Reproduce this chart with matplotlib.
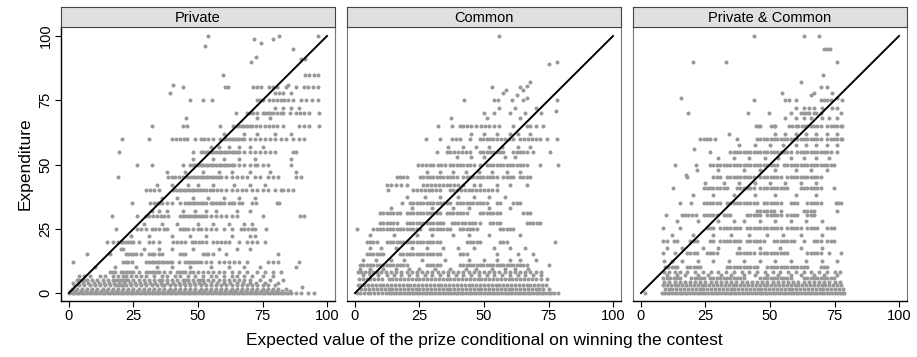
import matplotlib
matplotlib.use("Agg")
import matplotlib.pyplot as plt

plt.rcParams['font.family'] = ['Liberation Sans', 'DejaVu Sans']

panel_titles = ["Private", "Common", "Private & Common"]
ticks = [0, 25, 50, 75, 100]
diag = [0, 100]

# each panel: y level of a row of dots, and the x positions read on that row
private_y = [100, 99, 97.4, 96, 95, 92, 91, 90, 85, 81, 80, 78, 75, 72, 70, 68, 65, 62, 60, 57,
             55, 52, 50, 47, 45, 42, 40, 37, 35, 32, 30, 27, 25, 22, 20, 17, 15, 12, 10, 8,
             5, 3, 2.5, 1.5, 0, 6.5, 4, 0.8]
private_x = [
    [54, 81.5, 96.5],
    [71.7, 79],
    [74.4],
    [52.6],
    [86.7],
    [72.5],
    [90, 91.5],
    [70.5],
    [59.6, 91.5, 93, 95, 96.5],
    [40.4, 85],
    [44, 60.5, 61.8, 71.5, 73, 74.5, 77.5, 79, 80.5, 84, 88, 91, 92.5, 94.5, 96.5],
    [39, 80, 81.5, 83, 86],
    [47, 51.8, 55.3, 72.7, 74, 75.3, 77.5, 79, 80.5, 82, 83.5, 85, 87, 90, 92, 94, 96.5],
    [80, 83, 86, 89],
    [64.7, 69, 70.3, 71.5, 72.7, 75, 76, 77, 78, 79, 80.5, 82, 83, 85.5, 88, 89.5, 91, 93, 97],
    [45.3, 73, 78],
    [32, 44, 45.6, 58.5, 63.7, 65, 66, 67, 68, 69, 70, 71, 72.5, 74, 76, 77.5, 79, 80.5, 83, 89,
     91, 93, 97],
    [60, 68, 73, 80, 86],
    [20.4, 31, 40, 41.5, 43, 44.5, 45.6, 49, 51, 52.5, 54, 56, 58.5, 60, 61, 62, 63, 64, 65, 66,
     67, 68, 70, 72, 74, 76, 78, 80, 82, 84, 87, 89, 91],
    [55, 58, 62, 66, 70, 75],
    [19.5, 48, 51, 52, 53, 54, 55, 56, 57, 58, 59, 60, 61, 62, 63, 64, 65, 66, 68, 70, 72, 74,
     76, 78, 80, 87, 88],
    [48, 56, 60, 66, 72, 86],
    [26.2, 32, 44.3, 47, 48, 49, 50, 51, 52, 53, 54, 55, 56, 57, 58, 59, 60, 61, 62, 63, 64, 66,
     68, 70, 72, 73, 75, 77, 86],
    [38, 45, 52, 58, 63, 70, 78, 88],
    [19.1, 38.5, 40, 41, 42.5, 44, 45.6, 47, 48, 49, 50, 51, 52, 53, 54, 55, 56, 57, 58, 59, 61,
     63, 65, 67, 69, 72, 74, 77, 79, 81, 88, 90],
    [34, 40, 46, 50, 56, 64, 70, 76],
    [30, 31.5, 33, 35, 40.4, 41.5, 42.5, 43.5, 44.5, 45.5, 46.5, 47.5, 48.5, 49.5, 50.8, 52, 53,
     54.5, 56, 57.5, 59, 61, 63, 65, 67, 68.5, 71, 73, 75, 77, 80, 82, 83, 85, 87],
    [36, 42, 48, 54, 60, 66, 72],
    [24.3, 31.5, 33, 34, 35, 36, 38, 40, 43, 45, 46, 47, 48, 49, 50, 51, 52, 53, 55, 56, 57, 58,
     59, 60, 62, 63, 64, 66, 67, 71, 72.5, 80.5, 81.5],
    [32, 35, 38, 44, 49, 53, 57, 65, 70],
    [16.5, 26.2, 30, 31, 32.5, 34, 35.5, 37, 38.5, 43, 44, 45, 46, 47, 48, 49, 50, 51, 52, 53,
     55, 57, 59, 61, 63, 65, 75, 89.5, 91],
    [29, 36, 42, 50, 56, 62, 68, 71],
    [18.2, 26.2, 28, 30, 32, 33.5, 35, 37, 38, 43, 44, 45, 46, 48, 50, 51, 53, 55, 57, 60, 63,
     66.5, 68, 69.5, 71, 72, 76.5],
    [24, 31, 40, 47, 53, 63, 70, 72],
    [14.6, 17, 19, 20, 21, 22, 23, 24, 25, 27, 31, 32.5, 35, 40.4, 42, 43.5, 45, 47.5, 49, 50.5,
     51.5, 53, 56, 57.5, 59, 60.5, 62, 66, 69, 71, 73, 76],
    [20, 21, 29, 35, 40, 48, 58, 65, 70],
    [7.1, 15.8, 22, 23, 24, 25, 26, 28, 31, 32, 33, 35, 36, 43, 44, 45, 52, 53, 54, 56, 61, 81],
    [1.4, 21, 22, 23, 24.5, 30, 31, 32, 33, 34, 35, 36, 37, 38, 39, 40, 42.5, 45, 46, 47, 48, 49,
     50, 51, 53, 55, 58, 60, 62, 64, 66, 69, 77, 79, 81, 89],
    [10, 18, 26, 34, 40, 47, 55, 62, 68, 74, 88],
    [15.8, 17, 18, 20, 21, 22, 23, 24, 25, 27, 30, 31, 32, 33, 34, 35, 37, 39, 42, 43, 44, 45, 47,
     48, 50, 52, 54, 56, 58, 60, 63, 66, 69, 73, 76, 79, 82],
    [3, 4, 5, 6, 7, 9, 11, 13, 15, 17, 18, 19, 20, 21, 22, 23, 25, 27, 29, 31, 33, 35, 36, 38, 40,
     42, 44, 45, 46, 48, 50, 51, 52, 54, 56, 58, 60, 62, 64, 66, 68, 70, 74, 78, 83],
    [2, 4, 6, 8, 10, 12, 14, 16, 18, 19, 20, 21, 22, 24, 26, 28, 30, 32, 34, 36, 37, 39, 41, 43,
     45, 47, 49, 51, 53, 55, 57, 59, 61, 63, 65, 67, 69, 71, 73, 75, 77, 80],
    [90.2],
    [1, 3, 5, 7, 9, 11, 13, 15, 17, 19, 21, 23, 25, 27, 29, 31, 33, 35, 37, 39, 41, 43, 45, 47,
     49, 51, 53, 55, 57, 59, 61, 63, 65, 67, 69, 71, 73, 75, 77, 79, 81, 84],
    [0, 1, 2, 3, 4, 5, 6, 7, 8, 9, 10, 11, 12, 13, 14, 15, 16, 17, 18, 19, 20, 21, 22, 23, 24, 25,
     26, 27, 28, 29, 30, 31, 32, 33, 34, 35, 36, 37, 38, 39, 40, 41, 42, 43, 44, 45, 46, 47, 48,
     49, 50, 51, 52, 53, 54, 55, 56, 57, 58, 59, 60, 61, 62, 63, 64, 65, 66, 67, 68, 69, 70, 71,
     72, 73, 74, 75, 76, 77, 78, 79, 80, 81, 82, 83, 84, 85, 86, 88, 90, 92.5, 95],
    [4, 6, 8, 12, 14, 17, 19, 21, 22, 24, 26, 28, 30, 33, 36, 38, 41, 43, 46, 49, 52, 55, 57, 60,
     63, 65, 68, 71, 75, 79],
    [1.5, 3.5, 5.5, 7.5, 9.5, 11.5, 13.5, 15.5, 17.5, 19.5, 21.5, 23.5, 25.5, 27.5, 29.5, 31.5,
     33.5, 35.5, 38, 40.5, 42.5, 44.5, 46.5, 48.5, 50.5, 52.5, 55, 57.5, 60, 62.5, 65, 67.5, 70,
     72.5, 76, 81],
    [0.5, 2.5, 4.5, 6.5, 8.5, 10.5, 12.5, 14.5, 16.5, 18.5, 20.5, 22.5, 24.5, 26.5, 28.5, 30.5,
     32.5, 34.5, 36.5, 38.5, 40.5, 42.5, 44.5, 46.5, 48.5, 50.5, 52.5, 54.5, 56.5, 58.5, 60.5,
     62.5, 64.5, 66.5, 68.5, 70.5, 72.5, 74.5, 76.5, 78.5, 80.5, 82.5, 85.5],
]

common_y = [100, 90, 89, 82, 80.5, 80, 79, 78, 77, 76, 75, 72, 71, 70, 68, 65, 62, 60, 57, 55,
            53, 50, 47, 45, 42, 40, 37.5, 35, 33, 31, 27.4, 25, 22.5, 20, 17.5, 15, 13, 11, 8, 5.5,
            3, 1.5, 0, 7, 9.5]
common_x = [
    [55.7],
    [78.4],
    [75.3],
    [68],
    [66.5],
    [53, 64],
    [58.5, 65],
    [57.5],
    [62.7],
    [66.8],
    [42.2, 54, 55.5, 61, 65, 78.4],
    [56, 62, 70],
    [78],
    [50, 54, 60, 66, 72],
    [37.2, 51, 64],
    [32.3, 37.5, 40.7, 42, 43.5, 45, 47, 49, 50.5, 52, 54, 56, 61.4, 66.5, 68, 70, 73],
    [45, 50, 55, 60, 63, 68],
    [27.4, 33, 37.5, 39, 40.7, 44.6, 48.4, 49.7, 51, 52.3, 53.6, 55, 56.5, 58, 59.5, 61.4, 64,
     65.5, 67, 68.5, 70, 71.7, 74.3, 78.2],
    [36, 42, 47, 52, 57, 63, 68],
    [31.7, 35.5, 37, 38.5, 40, 41.5, 43, 44.6, 48.4, 49.7, 51, 52.3, 53.6, 55, 56.2, 57.5, 61.4,
     62.7, 64, 65.2, 66.5, 69.1, 75.6],
    [39.4, 45, 50, 58, 62],
    [24.5, 26, 27.4, 29, 30.4, 32, 33.5, 35, 36.8, 38.1, 39.4, 40.7, 42, 43.3, 44.6, 46, 48.4, 51,
     52.3, 53.6, 55, 56.2, 57.5, 58.8, 60.1, 61.4, 62.7, 64, 65.2, 66.5, 71.7, 78.8],
    [28, 33, 38, 43, 48, 53, 59, 64],
    [16.1, 17.4, 18.7, 20, 25.2, 26.5, 27.8, 29, 30.4, 31.7, 33, 34.2, 35.5, 36.8, 38.1, 39.4, 42,
     43.3, 44.6, 45.9, 47.2, 48.4, 49.7, 51, 52.3, 53.6, 54.9, 57.5, 58.8, 60.1, 61.4, 64, 65.2,
     66.5, 67.8],
    [12.3, 14, 16, 18, 20, 26.5, 28, 29.5, 31, 32.5, 34, 35.5, 37, 38.5, 40, 42, 46, 48.4, 54.9,
     60.1, 66.5],
    [12.9, 22.6, 24, 25.5, 27, 28.5, 30, 31.5, 32.9, 36.8, 38, 39.4, 41, 42.5, 44, 45.5, 47, 48.5,
     50, 51.5, 53, 54.9],
    [20, 27, 33, 40, 46, 52, 58],
    [18.1, 21.3, 22.6, 24, 25.2, 26.5, 27.8, 29, 30.4, 31.7, 33, 34.2, 35.5, 36.8, 39.4, 40.7, 42,
     43.3, 44.6, 45.9, 47.2, 48.4, 49.7, 51, 54.9, 56.2, 61.4, 62.7, 64],
    [14, 22, 30, 38, 44, 52, 60],
    [9.7, 11, 12.3, 13.6, 14.9, 16.1, 17.4, 20, 21.3, 22.6, 24, 25.2, 26.5, 27.8, 29, 30.4, 31.7,
     32.9, 35.5, 36.8, 38.1, 39.4, 40.7, 42, 43.3, 48.4, 49.7, 51, 52.3, 53.6, 54.9, 56.2, 65.2,
     66.5, 67.8],
    [9.7, 11, 12.3, 13.6, 14.9, 16.1, 20, 21.3, 22.6, 24, 25.2, 26.5, 27.8, 29, 30.4, 31.7, 32.9,
     34.2, 37.5, 38.8, 40, 41.4, 42.7, 44, 45.3, 46.6, 48.4, 52.3, 53.6, 54.9, 56.2, 66.5, 67.8,
     69.1, 70.4, 71.7],
    [0.6, 7.1, 8.4, 9.7, 11, 12.3, 13.6, 14.9, 16.1, 17.4, 18.7, 20, 21.3, 22.6, 24, 25.2, 29,
     30.4, 31.7, 32.9, 34.2, 35.5, 36.8, 40.7, 42, 43.3, 44.6, 45.9, 47.2, 56.2, 57.5, 58.8, 60.1,
     61.4],
    [6, 15, 24, 30, 38, 44, 52, 64],
    [4.5, 5.8, 7.1, 8.4, 12.3, 13.6, 14.9, 16.1, 17.4, 18.7, 20, 21.3, 22.6, 24, 25.2, 26.5, 27.8,
     29, 30.4, 31.7, 32.9, 43.3, 44.6, 45.9, 47.2, 48.4, 56.2, 57.5, 58.8, 77.5],
    [6, 10, 16, 22, 28, 34, 40, 46, 54, 60, 66],
    [4.5, 5.8, 7.1, 8.4, 9.7, 11, 17.4, 18.7, 20, 21.3, 22.6, 24, 25.2, 26.5, 27.8, 29, 30.4,
     31.7, 32.9, 40.7, 42, 43.3, 54.9, 63, 69],
    [3, 8, 14, 19, 26, 35, 44, 50, 55, 60, 64, 70],
    [2, 3.2, 4.5, 5.8, 7.1, 8.4, 9.7, 11, 12.3, 13.6, 14.9, 16.1, 17.4, 18.7, 20, 27.8, 29, 30.4,
     31.7, 32.9, 40.7, 42, 43.3, 44.6, 45.9, 47.2, 48.4, 49.7, 51, 52.3, 53.6, 54.9, 56.2, 57.5,
     58.8, 60.1, 61.4, 62.7, 64, 65.2, 66.5, 75],
    [1, 2.5, 4, 5.5, 7, 8.5, 10, 12, 14, 16, 18, 20, 22, 24, 26, 28, 30, 32, 34, 36, 38, 40, 42,
     44, 46, 48, 50, 52, 54, 56, 58, 60, 62, 64, 66, 68, 70, 72],
    [1.5, 3, 4.5, 6, 7.5, 9, 10.5, 13, 14.5, 16, 17.5, 19, 20.5, 22, 23.5, 25, 26.5, 28, 29.5, 31,
     32.5, 34, 35.5, 37, 38.5, 40, 41.5, 43, 44.5, 46, 47.5, 49, 50.5, 52, 53.5, 55, 56.5, 58,
     59.5, 61, 62.5, 64, 65.5, 67, 68.5, 70, 72, 74.5],
    [1, 2, 3.5, 5, 6.5, 8, 9.5, 11, 12.5, 14, 15.5, 17, 18.5, 20, 21.5, 23, 24.5, 26, 27.5, 29,
     30.5, 32, 33.5, 35, 36.5, 38, 39.5, 41, 42.5, 44, 45.5, 47, 48.5, 50, 51.5, 53, 54.5, 56,
     57.5, 59, 60.5, 62, 63.5, 65, 66.5, 68, 69.5, 71, 72.5, 74],
    [2.5, 4, 5.5, 7, 8.5, 10, 11.5, 13, 14.5, 16, 17.5, 19, 20.5, 22, 23.5, 25, 26.5, 28, 29.5,
     31, 32.5, 34, 35.5, 37, 38.5, 40, 41.5, 43, 44.5, 46, 47.5, 49, 50.5, 52, 53.5, 55, 56.5, 58,
     59.5, 61, 62.5, 64, 65.5, 67, 68.5, 70, 71.5, 73, 75],
    [0.6, 2, 3.5, 5, 6, 7.5, 9, 10.5, 12, 13, 14, 15, 16, 17, 18, 19, 20, 21, 22, 23, 24, 25, 26,
     27, 28, 29, 30, 31, 32, 33, 34, 35, 36, 37, 38, 39, 40, 41, 42, 43, 44, 45, 46, 47, 48, 49,
     50, 51, 52, 53, 54, 55, 56, 57, 58, 59, 60, 61, 62, 63, 64, 65, 66, 67, 68, 69, 70, 71, 72,
     73, 74, 75, 76, 77, 78.8],
    [3, 6, 9, 12.5, 15, 18, 21, 24, 27, 30, 33, 36, 39, 42, 45, 48, 51, 54, 57, 60, 63, 66, 69, 72],
    [2, 6, 11, 16, 21, 25, 31, 37, 43, 47, 53, 58, 62, 67],
]

both_y = [100, 95, 90, 85, 82, 80, 78, 77, 76, 75, 72, 70, 68, 65, 62, 60, 57.5, 56, 55, 52.5,
          50, 48, 46, 45, 43, 40.7, 38, 35, 32, 30.4, 28, 25.2, 22.5, 20.4, 17.5, 15.4, 12.5,
          10.2, 8, 5.7, 3, 1.5, 0, 4.3, 7]
both_x = [
    [43.7, 63, 69.1],
    [71, 72.2, 73.3],
    [20, 33.1, 75.9],
    [70.7],
    [61.9],
    [69.7, 72.2],
    [54.7, 67.1, 74.2],
    [65.8],
    [15.6, 76],
    [43.7, 56, 57.5, 59.9, 69.7, 71, 72.2, 73.5, 78.1],
    [60, 63, 65, 67, 70, 74, 76],
    [18.4, 41.4, 49.8, 58, 61.9, 63.2, 64.5, 65.1, 67.1, 68, 69.7, 77.4],
    [56, 60, 63, 66, 70, 73, 76],
    [44.4, 45.5, 46.3, 50.2, 51.5, 52.1, 57.3, 58.5, 59.9, 61, 62.3, 63.5, 64.5, 65.8, 67.1, 68.4,
     69.7, 72.2, 73.5, 74.8, 76.1, 77.4, 78.1],
    [34, 52, 56, 60, 64, 68, 72, 76],
    [23, 24.3, 25.6, 26.8, 28.8, 37.2, 45, 46.3, 47.6, 48.9, 50.2, 51.5, 52.8, 54.1, 55.4, 56.7,
     58, 59.3, 60.6, 61.9, 63.2, 64.5, 65.8, 67.1, 68.4, 69.7, 72.2, 73.5, 74.8, 76.1, 77.4, 78.1],
    [38, 44, 50, 55, 60, 64, 68, 72, 76],
    [20.6],
    [26.8, 34.6, 35.9, 37.2, 38.5, 39.8, 41.1, 42.4, 43.7, 45, 46.3, 47.6, 48.9, 50.2, 51.5, 52.8,
     54.1, 55.4, 56.7, 58, 60.6, 61.9, 63.2, 64.5, 65.8, 67.1, 68.4, 69.7, 71, 72.2, 73.5, 76.1],
    [30, 36, 42, 48, 53, 58, 63, 68, 73],
    [13, 21.4, 26.8, 28.1, 29.4, 30.7, 32, 33.3, 34.6, 35.9, 37.2, 38.5, 39.8, 41.1, 42.4, 43.7,
     45, 46.3, 47.6, 48.9, 50.2, 51.5, 52.8, 55.4, 56.7, 58, 59.3, 60.6, 61.9, 63.2, 64.5, 65.8,
     67.1, 68.4, 69.7, 71, 72.2, 73.5, 74.8],
    [21.7, 30, 40, 46, 52, 60, 66, 72],
    [17.5],
    [17.8, 28.1, 29.4, 30.7, 33.3, 34.6, 35.9, 37.2, 38.5, 39.8, 41.1, 42.4, 43.7, 46.3, 47.6,
     48.9, 50.2, 51.5, 52.8, 54.1, 56.7, 58, 59.3, 60.6, 61.9, 63.2, 64.5, 65.8, 67.1, 68.4, 69.7],
    [25, 32, 38, 44, 50, 56, 62, 68],
    [12.3, 24.3, 25.6, 26.8, 28.1, 29.4, 30.7, 32, 33.3, 37.2, 38.5, 39.8, 41.1, 42.4, 43.7, 46.3,
     47.6, 48.9, 50.2, 51.5, 52.8, 54.1, 55.4, 56.7, 61.9, 63.2, 64.5, 65.8, 67.1, 68.4, 69.7,
     74.8],
    [20, 28, 36, 44, 52, 60, 68],
    [15.2, 19.5, 24.3, 25.6, 26.8, 28.1, 29.4, 30.7, 33.3, 34.6, 35.9, 37.2, 38.5, 39.8, 41.1,
     42.4, 43.7, 45, 47.6, 48.9, 50.2, 51.5, 52.8, 54.1, 58, 59.3, 60.6, 64.5, 65.8, 67.1, 68.4,
     69.7, 75.5, 76.5, 77.4],
    [45, 46.3, 47.6, 48.9, 50.2, 51.5, 54.1, 63.2, 64.5, 65.8, 67.1, 75.9],
    [9.7, 15.8, 17.1, 18.4, 19.7, 21.4, 24.3, 25.6, 26.8, 28.1, 29.4, 32, 33.3, 34.6, 41.1, 42.4,
     43.7, 45, 46.3, 48.9, 50.2, 51.5, 52.8, 54.1, 56.7, 58, 59.3, 60.6, 64.5, 65.8, 67.1],
    [14, 22, 30, 36, 40, 46, 52, 58, 64, 70],
    [8.7, 15.2, 25.6, 26.8, 28.1, 30.7, 32, 33.3, 34.6, 35.9, 37.2, 38.5, 41.1, 42.4, 43.7, 45,
     46.3, 47.6, 48.9, 50.2, 51.5, 52.8, 54.1, 56.7, 58, 59.3, 60.6, 61.9, 64.5, 65.8, 67.1, 68.4,
     72.2, 73.5, 74.8],
    [12, 20, 28, 35, 42, 49, 55, 62, 70],
    [8.7, 10, 12.6, 13.9, 19.1, 20.4, 21.7, 26.8, 28.1, 30.7, 32, 33.3, 34.6, 35.9, 37.2, 38.5,
     41.1, 42.4, 43.7, 45, 46.3, 47.6, 51.5, 52.8, 54.1, 55.4, 56.7, 58, 59.3, 63.2, 67.1, 68.4,
     69.7, 72.2, 73.5, 74.8],
    [10, 16, 24, 30, 38, 46, 54, 62, 70],
    [8.7, 13.2, 17.8, 19.1, 20.4, 21.7, 25.6, 26.8, 28.1, 29.4, 37.2, 38.5, 39.8, 41.1, 42.4,
     43.7, 46.3, 47.6, 48.9, 50.2, 51.5, 52.8, 54.1, 55.4, 56.7, 64.5, 65.8, 67.1, 68.4, 69.7,
     72.9, 77.4],
    [9, 12, 16, 22, 28, 34, 40, 46, 52, 58, 64, 70, 76],
    [9.3, 10.6, 11.9, 13.2, 13.9, 17.8, 19.1, 20.4, 21.7, 23, 33.3, 34.6, 35.9, 37.2, 38.5, 39.8,
     41.1, 42.4, 43.7, 45, 48.9, 50.2, 51.5, 52.8, 54.1, 55.4, 56.7, 58, 59.3, 60.6, 61.9, 63.2,
     64.5, 69.7, 70.9, 72.2],
    [9, 11, 13, 15, 18, 21, 24, 27, 30, 33, 36, 39, 42, 45, 48, 51, 54, 57, 60, 63, 66, 69, 72,
     75, 77],
    [8.7, 10, 11.3, 12.6, 13.9, 15.2, 19.5, 20.8, 22, 23.3, 24.6, 26.8, 28.1, 29.4, 30.7, 32,
     33.3, 34.6, 35.9, 37.2, 38.5, 39.8, 46.3, 47.6, 48.9, 50.2, 51.5, 52.8, 54.1, 55.4, 56.7, 58,
     63.2, 64.5, 65.8, 67.1, 68.4, 69.7, 70.9, 72.2, 73.5, 74.8],
    [8.5, 10, 11.5, 13, 14.5, 16, 17.5, 19, 20.5, 22, 23.5, 25, 26.5, 28, 29.5, 31, 32.5, 34, 35.5,
     37, 38.5, 40, 41.5, 43, 44.5, 46, 47.5, 49, 50.5, 52, 53.5, 55, 56.5, 58, 59.5, 61, 62.5, 64,
     65.5, 67, 68.5, 70, 71.5, 73, 74.5, 76, 77.5],
    [9.2, 10.7, 12.2, 13.7, 15.2, 16.7, 18.2, 19.7, 21.2, 22.7, 24.2, 25.7, 27.2, 28.7, 30.2, 31.7,
     33.2, 34.7, 36.2, 37.7, 39.2, 40.7, 42.2, 43.7, 45.2, 46.7, 48.2, 49.7, 51.2, 52.7, 54.2,
     55.7, 57.2, 58.7, 60.2, 61.7, 63.2, 64.7, 66.2, 67.7, 69.2, 70.7, 72.2, 73.7, 75.2, 76.7,
     78.2],
    [1.5, 8, 9, 10, 11, 12, 13, 14, 15, 16, 17, 18, 19, 20, 21, 22, 23, 24, 25, 26, 27, 28, 29, 30,
     31, 32, 33, 34, 35, 36, 37, 38, 39, 40, 41, 42, 43, 44, 45, 46, 47, 48, 49, 50, 51, 52, 53,
     54, 55, 56, 57, 58, 59, 60, 61, 62, 63, 64, 65, 66, 67, 68, 69, 70, 71, 72, 73, 74, 75, 76,
     77, 78, 78.7],
    [9, 11, 13, 15, 17, 19, 21, 23, 25, 27, 29, 31, 33, 35, 37, 39, 41, 43, 45, 47, 49, 51, 53, 55,
     57, 59, 61, 63, 65, 67, 69, 71, 73, 75, 77],
    [10, 14, 17, 22, 26, 31, 35, 40, 44, 49, 53, 58, 62, 67, 71, 76],
]


def flatten(levels, rows):
    xs, ys = [], []
    for y, row in zip(levels, rows):
        xs += row
        ys += [y] * len(row)
    return xs, ys


panel_data = [(private_y, private_x), (common_y, common_x), (both_y, both_x)]

fig = plt.figure(figsize=(9.17, 3.57), dpi=100)
W, H = 917, 357
lefts = [61, 347, 633]
pw = 274
bottom_px, top_px, strip_top = 301, 27, 7

for i, (title, (levels, rows)) in enumerate(zip(panel_titles, panel_data)):
    ax = fig.add_axes([lefts[i] / W, (H - bottom_px) / H, pw / W, (bottom_px - top_px) / H])
    xs, ys = flatten(levels, rows)
    ax.scatter(xs, ys, s=8.5, color='#999999', linewidths=0, zorder=2)
    ax.plot(diag, diag, color='black', lw=1.4, zorder=3)
    ax.set_xlim(-3.1, 103.1)
    ax.set_ylim(-3.1, 103.5)
    ax.set_xticks(ticks)
    ax.tick_params(axis='x', direction='out', length=4, width=0.8, labelsize=10.5, pad=2)
    for side in ['top', 'right', 'left']:
        ax.spines[side].set_color('#777777')
        ax.spines[side].set_linewidth(0.8)
    ax.spines['bottom'].set_color('black')
    ax.spines['bottom'].set_linewidth(1.0)
    if i == 0:
        ax.set_yticks(ticks)
        ax.set_yticklabels([str(t) for t in ticks], rotation=90, va='center')
        ax.tick_params(axis='y', direction='out', length=4, width=0.8, labelsize=10.5, pad=2)
        ax.spines['left'].set_color('black')
        ax.spines['left'].set_linewidth(1.0)
        ax.set_ylabel('Expenditure', fontsize=12.5, labelpad=4)
    else:
        ax.set_yticks([])

    sax = fig.add_axes([lefts[i] / W, (H - top_px) / H, pw / W, (top_px - strip_top) / H])
    sax.set_facecolor('#e0e0e0')
    sax.set_xticks([])
    sax.set_yticks([])
    for sp in sax.spines.values():
        sp.set_color('#444444')
        sp.set_linewidth(0.8)
    sax.text(0.5, 0.45, title, ha='center', va='center', fontsize=10.5, transform=sax.transAxes)

fig.text(484 / W, 1 - 340 / H, 'Expected value of the prize conditional on winning the contest',
         ha='center', va='center', fontsize=12.5)

fig.savefig('out.png', dpi=100)
